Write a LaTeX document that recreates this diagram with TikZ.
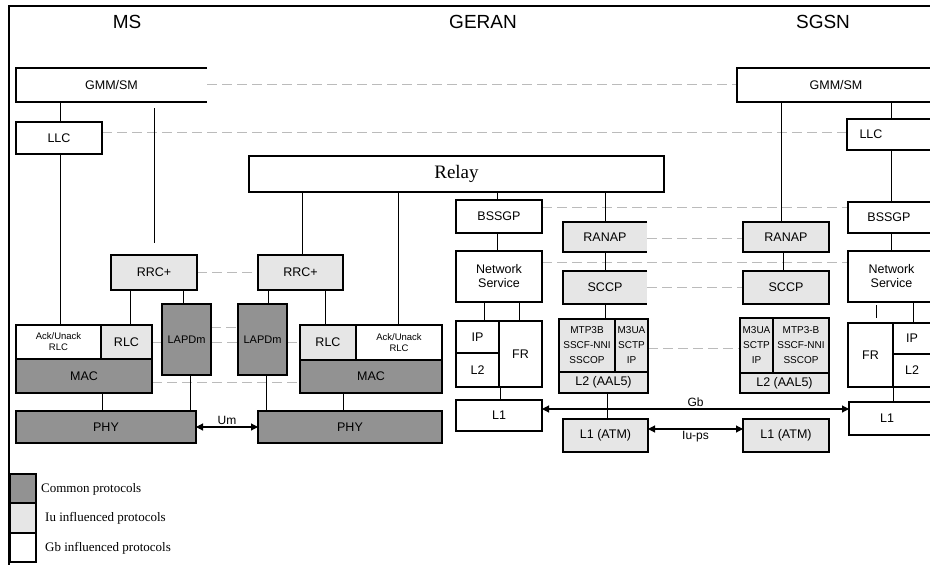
\documentclass[tikz,border=0pt]{standalone}
\usepackage{fontspec}
\setmainfont{Liberation Sans}
\newfontfamily\seriff{Liberation Serif}
\usetikzlibrary{arrows.meta}
\definecolor{dkg}{HTML}{929292}
\definecolor{ltg}{HTML}{E6E6E6}
\definecolor{dshc}{HTML}{BBBBBB}
\newcommand\protbox[7]{\node[pb,#6,minimum width={(#4-#2)*1pt},minimum height={(#5-#3)*1pt},anchor=north west] (#1) at (#2,#3) {#7};}
\begin{document}
\begin{tikzpicture}[x=1pt,y=-1pt,
 pb/.style={draw=black,line width=1.1pt,inner sep=0pt,outer sep=0pt,font=\fontsize{12.5}{14}\selectfont,align=center,fill=white},
 thk/.style={line width=1.7pt},
 cp/.style={fill=dkg},
 ip/.style={fill=ltg},
 gp/.style={fill=white},
 small/.style={font=\fontsize{9.5}{11}\selectfont},
 mid/.style={font=\fontsize{10}{15}\selectfont},
 openr/.style={draw=none},
 dsh/.style={draw=dshc,line width=1pt,dash pattern=on 10pt off 5pt},
 ln/.style={draw=black,line width=0.9pt},
 arr/.style={draw=black,line width=1.1pt,{Triangle[length=7pt,width=7pt]}-{Triangle[length=7pt,width=7pt]}},
 hdr/.style={font=\fontsize{19}{21}\selectfont},
 lbl/.style={font=\fontsize{12}{13}\selectfont,inner sep=1pt},
 leg/.style={font=\seriff\fontsize{13}{14}\selectfont,anchor=west,inner sep=0pt},
]
\useasboundingbox (0,0) rectangle (930,565);
\draw[line width=2pt] (9,566) -- (9,6) -- (932,6);
% headers
\node[hdr] (hms) at (127,22) {MS};
\node[hdr] (hgeran) at (483,22) {GERAN};
\node[hdr] (hsgsn) at (823,22) {SGSN};
% dashed peer lines (behind)
\draw[dsh] (207,84) -- (737,84);
\draw[dsh] (102,132) -- (847,132);
\draw[dsh] (197,272) -- (258,272);
\draw[dsh] (211,327) -- (238,327);
\draw[dsh] (152,342) -- (300,342);
\draw[dsh] (152,382) -- (300,382);
\draw[dsh] (542,207) -- (848,207);
\draw[dsh] (542,262) -- (848,262);
\draw[dsh] (647,238) -- (743,238);
\draw[dsh] (647,287) -- (743,287);
\draw[dsh] (648,348) -- (740,348);
% MS side
\protbox{gmmL}{16}{68}{207}{102}{openr}{GMM/SM}
\draw[line width=1.1pt] (gmmL.north east) -- (gmmL.north west) -- (gmmL.south west) -- (gmmL.south east);
\protbox{gmmR}{737}{68}{935}{102}{}{GMM/SM}
\protbox{llcL}{16}{122}{102}{154}{}{LLC}
\protbox{llcR}{847}{119}{935}{150}{}{\hspace*{-40pt}LLC}
\protbox{relay}{249}{156}{664}{192}{font=\seriff\fontsize{19}{21}\selectfont}{Relay}
\protbox{rrcL}{111}{255}{197}{290}{ip,thk}{RRC+}
\protbox{rrcR}{258}{255}{343}{290}{ip,thk}{RRC+}
\protbox{lapL}{162}{304}{211}{375}{cp,thk,font=\fontsize{11}{12}\selectfont}{LAPDm}
\protbox{lapR}{238}{304}{287}{375}{cp,thk,font=\fontsize{11}{12}\selectfont}{LAPDm}
\protbox{ackL}{16}{325}{101}{359}{gp,small}{Ack/Unack\\RLC}
\protbox{rlcL}{101}{325}{152}{359}{ip,thk}{RLC}
\protbox{macL}{16}{359}{152}{393}{cp,thk}{MAC}
\protbox{rlcR}{300}{325}{356}{360}{ip,thk}{RLC}
\protbox{ackR}{356}{325}{442}{360}{gp,small}{Ack/Unack\\RLC}
\protbox{macR}{300}{360}{442}{393}{cp,thk}{MAC}
\protbox{phyL}{16}{411}{196}{443}{cp,thk}{PHY}
\protbox{phyR}{258}{411}{442}{443}{cp,thk}{PHY}
% GERAN Gb side
\protbox{bssgpL}{456}{200}{542}{233}{gp,thk}{BSSGP}
\protbox{nsL}{456}{251}{542}{302}{gp}{Network\\Service}
\protbox{ipL}{456}{321}{499}{353}{gp}{IP}
\protbox{l2L}{456}{353}{499}{387}{gp}{L2}
\protbox{frL}{499}{321}{542}{387}{gp}{FR}
\draw[line width=1.7pt] (ipL.north east) -- (l2L.south east);
\draw[line width=1.7pt] (ipL.south west) -- (ipL.south east);
\protbox{l1L}{456}{400}{542}{431}{gp,thk}{L1}
% GERAN Iu side
\protbox{ranapL}{563}{222}{647}{252}{ip,openr}{RANAP}
\draw[line width=1.7pt] (ranapL.north east) -- (ranapL.north west) -- (ranapL.south west) -- (ranapL.south east);
\protbox{sccpL}{563}{271}{647}{304}{ip,openr}{SCCP}
\draw[line width=1.7pt] (sccpL.north east) -- (sccpL.north west) -- (sccpL.south west) -- (sccpL.south east);
\protbox{mtpL}{559}{319}{615}{372}{ip,thk,mid}{MTP3B\\SSCF-NNI\\SSCOP}
\protbox{m3uaL}{615}{319}{648}{372}{ip,thk,mid}{M3UA\\SCTP\\IP}
\protbox{aalL}{559}{372}{648}{393}{ip,thk}{L2 (AAL5)}
\protbox{atmL}{563}{419}{648}{452}{ip,thk}{L1 (ATM)}
% SGSN Iu side
\protbox{ranapR}{743}{222}{829}{252}{ip,thk}{RANAP}
\protbox{sccpR}{743}{271}{829}{304}{ip,thk}{SCCP}
\protbox{m3uaR}{740}{318}{773}{373}{ip,thk,mid}{M3UA\\SCTP\\IP}
\protbox{mtpR}{773}{318}{829}{373}{ip,thk,mid}{MTP3-B\\SSCF-NNI\\SSCOP}
\protbox{aalR}{740}{373}{829}{393}{ip,thk}{L2 (AAL5)}
\protbox{atmR}{743}{419}{829}{452}{ip,thk}{L1 (ATM)}
% SGSN Gb side
\protbox{bssgpR}{848}{202}{935}{233}{gp}{\hspace*{-5pt}BSSGP}
\protbox{nsR}{848}{251}{935}{302}{gp}{Network\\Service}
\protbox{frR}{848}{323}{893}{387}{gp}{FR}
\protbox{ipR}{893}{323}{935}{354}{gp}{\hspace*{-4pt}IP}
\protbox{l2R}{893}{354}{935}{387}{gp}{\hspace*{-4pt}L2}
\draw[line width=1.7pt] (ipR.south west) -- (ipR.south east);
\protbox{l1R}{849}{402}{935}{435}{gp,thk}{\hspace*{-10pt}L1}
% vertical connectors
\draw[ln] (60,0 |- gmmL.south) -- (60,0 |- llcL.north);
\draw[ln] (60,0 |- llcL.south) -- (60,0 |- ackL.north);
\coordinate (ms2) at (154,108);
\draw[ln] (ms2) -- (154,243);
\draw[ln] (302,0 |- relay.south) -- (302,0 |- rrcR.north);
\draw[ln] (398,0 |- relay.south) -- (398,0 |- ackR.north);
\draw[ln] (497,0 |- relay.south) -- (497,0 |- bssgpL.north);
\draw[ln] (605,0 |- relay.south) -- (605,0 |- ranapL.north);
\draw[ln] (130,0 |- rrcL.south) -- (130,0 |- rlcL.north);
\draw[ln] (183,0 |- rrcL.south) -- (183,0 |- lapL.north);
\draw[ln] (268,0 |- rrcR.south) -- (268,0 |- lapR.north);
\draw[ln] (325,0 |- rrcR.south) -- (325,0 |- rlcR.north);
\draw[ln] (190,0 |- lapL.south) -- (190,0 |- phyL.north);
\draw[ln] (266,0 |- lapR.south) -- (266,0 |- phyR.north);
\draw[ln] (102,0 |- macL.south) -- (102,0 |- phyL.north);
\draw[ln] (343,0 |- macR.south) -- (343,0 |- phyR.north);
\draw[ln] (497,0 |- bssgpL.south) -- (497,0 |- nsL.north);
\draw[ln] (484,0 |- nsL.south) -- (484,0 |- ipL.north);
\draw[ln] (519,0 |- nsL.south) -- (519,0 |- frL.north);
\draw[ln] (500,0 |- frL.south) -- (500,0 |- l1L.north);
\draw[ln] (605,0 |- ranapL.south) -- (605,0 |- sccpL.north);
\draw[ln] (605,0 |- sccpL.south) -- (605,0 |- mtpL.north);
\draw[ln] (607,0 |- aalL.south) -- (607,0 |- atmL.north);
\draw[ln] (891,0 |- gmmR.south) -- (891,0 |- llcR.north);
\draw[ln] (781,0 |- gmmR.south) -- (781,0 |- ranapR.north);
\draw[ln] (891,0 |- llcR.south) -- (891,0 |- bssgpR.north);
\draw[ln] (891,0 |- bssgpR.south) -- (891,0 |- nsR.north);
\draw[ln] (783,0 |- ranapR.south) -- (783,0 |- sccpR.north);
\draw[ln] (876,305) -- (876,318);
\draw[ln] (913,0 |- nsR.south) -- (913,0 |- ipR.north);
\draw[ln] (893,0 |- frR.south) -- (893,0 |- l1R.north);
% interface arrows
\draw[arr] (phyL.east) -- (phyR.west) node[midway,above=1pt,lbl] (um) {Um};
\draw[arr] (l1L.east |- 0,409) -- (l1R.west |- 0,409) node[pos=0.5,above=1pt,lbl] (gb) {Gb};
\draw[arr] (atmL.east |- 0,429) -- (atmR.west |- 0,429) node[midway,below=1pt,lbl] (iups) {Iu-ps};
% legend
\protbox{lg1}{10}{474}{36}{503}{cp,thk}{}
\protbox{lg2}{10}{503}{36}{533}{ip,thk}{}
\protbox{lg3}{10}{533}{36}{562}{gp,thk}{}
\node[leg] (lt1) at (41,489) {Common protocols};
\node[leg] (lt2) at (45,518) {Iu influenced protocols};
\node[leg] (lt3) at (45,548) {Gb influenced protocols};
\end{tikzpicture}
\end{document}
